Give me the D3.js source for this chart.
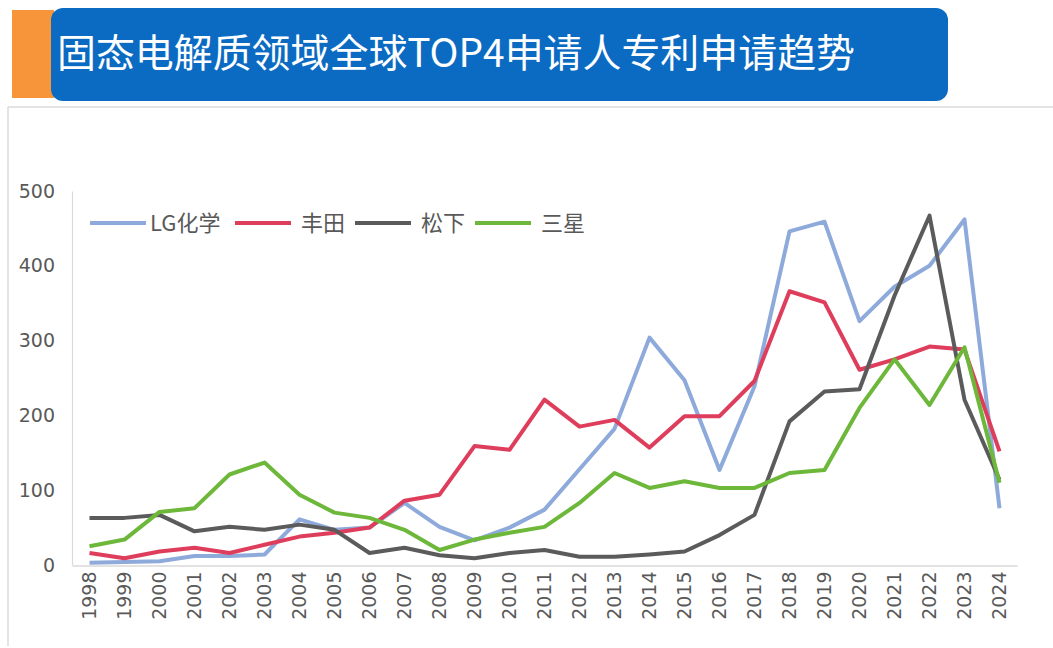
<!DOCTYPE html>
<html><head><meta charset="utf-8">
<script src="https://cdn.jsdelivr.net/npm/d3@7"></script>
<style>
html,body{margin:0;padding:0;background:#fff;}
svg{display:block;}
</style></head>
<body>
<svg id="c" width="1053" height="648"></svg>
<script>
const title = "固态电解质领域全球TOP4申请人专利申请趋势";
const years = ["1998","1999","2000","2001","2002","2003","2004","2005","2006","2007","2008","2009","2010","2011","2012","2013","2014","2015","2016","2017","2018","2019","2020","2021","2022","2023","2024"];
const seriesNames = ["LG化学","丰田","松下","三星"];
const lgValues      = [3,4,5,12,12,14,61,47,50,83,51,33,50,74,128,182,304,247,127,239,446,459,326,372,400,462,76];
const toyotaValues  = [16,9,18,23,16,27,38,43,50,86,94,159,154,221,185,194,157,199,199,246,366,351,261,275,292,288,152];
const panasonicValues = [63,63,67,45,51,47,54,47,16,23,13,9,16,20,11,11,14,18,40,67,192,232,235,360,467,221,114];
const samsungValues = [25,34,71,76,121,137,94,70,63,47,20,34,43,51,83,123,103,112,103,103,123,127,210,275,214,291,110];
const yTicks = [0,100,200,300,400,500];
const colors = ["#8eaadb","#de3e5c","#5b5b5b","#6db83a"];

const svg = d3.select("#c");
const allSeries = [lgValues, toyotaValues, panasonicValues, samsungValues];

// header
svg.append("rect").attr("x",12).attr("y",10).attr("width",42).attr("height",88).attr("fill","#f7953b");
svg.append("rect").attr("x",51).attr("y",8).attr("width",897).attr("height",93).attr("rx",12).attr("ry",12).attr("fill","#0b6bc3");
svg.append("text").attr("x",57).attr("y",67)
  .attr("font-family","'Noto Sans CJK SC', sans-serif").attr("font-size",39)
  .attr("fill","#ffffff").attr("textLength",798).attr("lengthAdjust","spacingAndGlyphs").text(title);

// chart frame lines
svg.append("line").attr("x1",8).attr("x2",1053).attr("y1",107).attr("y2",107).attr("stroke","#dadada").attr("stroke-width",1.5);
svg.append("line").attr("x1",8).attr("x2",8).attr("y1",107).attr("y2",646).attr("stroke","#dadada").attr("stroke-width",1.5);

const x = d3.scaleBand().domain(years).range([72,1017]);
const y = d3.scaleLinear().domain([0,500]).range([565,191]);
const cx = d => x(d) + x.bandwidth()/2;

// axes
const yAxis = d3.axisLeft(y).tickValues(yTicks).tickSize(0).tickPadding(17);
const gy = svg.append("g").attr("transform","translate(72,0)").call(yAxis);
gy.select(".domain").attr("stroke","#d9d9d9").attr("stroke-width",1.2);
gy.selectAll("text").attr("font-family","'DejaVu Sans', sans-serif").attr("font-size",19).attr("fill","#595959");

const xAxis = d3.axisBottom(x).tickSize(0).tickSizeOuter(0);
const gx = svg.append("g").attr("transform","translate(0,565.5)").call(xAxis);
gx.select(".domain").attr("stroke","#d9d9d9").attr("stroke-width",1.5);
gx.selectAll("text")
  .attr("font-family","'DejaVu Sans', sans-serif").attr("font-size",19).attr("fill","#595959")
  .attr("text-anchor","end").attr("dy","0.35em")
  .attr("transform","translate(0,6) rotate(-90)")
  .attr("x",0).attr("y",0);

// lines
const line = d3.line().x((d,i)=>cx(years[i])).y(d=>y(d));
allSeries.forEach((vals,k)=>{
  svg.append("path").datum(vals).attr("d",line).attr("fill","none")
    .attr("stroke",colors[k]).attr("stroke-width",4).attr("stroke-linejoin","round");
});

// legend
const legendX = [90,235,355,475];
const legendText = [150,301,421,541];
const lg = svg.append("g");
seriesNames.forEach((n,k)=>{
  lg.append("line").attr("x1",legendX[k]).attr("x2",legendX[k]+56).attr("y1",223).attr("y2",223)
    .attr("stroke",colors[k]).attr("stroke-width",4);
  lg.append("text").attr("x",legendText[k]).attr("y",223).attr("dy","0.35em")
    .attr("font-family","'Noto Sans CJK SC', sans-serif").attr("font-size",22).attr("fill","#595959").text(n);
});
</script>
</body></html>
